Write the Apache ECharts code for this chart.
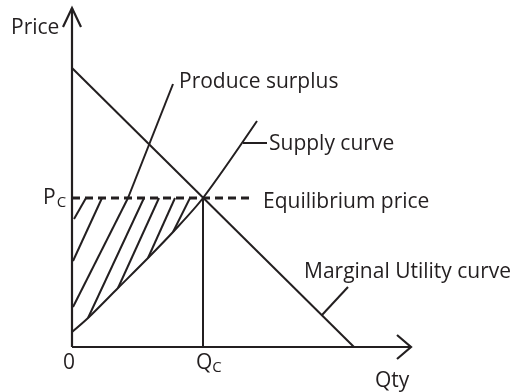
<!DOCTYPE html>
<html>
<head>
<meta charset="utf-8">
<script src="https://cdn.jsdelivr.net/npm/echarts@6/dist/echarts.min.js"></script>
<style>
  html, body { margin: 0; padding: 0; background: #fff; }
  #chart { width: 516px; height: 392px; }
</style>
</head>
<body>
<div id="chart"></div>
<script>
// chart units: quantity on x, price on y, origin at 0
var demandLine = [[0, 279], [282, 0]];
var supplyCurve = [[0, 15], [16, 29], [46, 59], [76, 89], [101, 115], [131, 149], [185, 226]];
var pcValue = 149;
var qcValue = 131;
var pcLine = [[0, 149], [181, 149]];
var qcLine = [[131, 0], [131, 149]];
// shaded producer surplus, one segment per hatch stroke
var hatchLines = [
  [[2, 128], [14, 149]],
  [[1, 86], [30, 149]],
  [[1, 40], [56, 149]],
  [[16, 29], [72, 149]],
  [[46, 59], [87, 149]],
  [[76, 89], [103, 149]],
  [[101, 115], [118, 149]]
];
// leader lines from labels to curves
var surplusPointer = [[56, 149], [101, 263]];
var supplyPointer = [[171, 204], [195, 204]];
var muPointer = [[250, 32], [276, 60]];
// axes with open arrow heads
var yAxisLine = [[0, 0], [0, 339]];
var yArrow = [[-9, 320], [0, 339], [9, 320]];
var xAxisLine = [[0, 0], [339, 0]];
var xArrow = [[325, 12], [339, 0], [325, -12]];

var ink = "#231f20";
var chart = echarts.init(document.getElementById("chart"));

function seg(list) {
  return list.map(function (c) { return { coords: c }; });
}

chart.setOption({
  animation: false,
  grid: { left: 0, right: 0, top: 0, bottom: 0 },
  xAxis: { type: "value", min: -72, max: 444, show: false },
  yAxis: { type: "value", min: -45, max: 347, show: false },
  series: [
    {
      name: "axes",
      type: "lines",
      coordinateSystem: "cartesian2d",
      polyline: true,
      lineStyle: { color: ink, width: 2.2, opacity: 1 },
      data: seg([yAxisLine, yArrow, xAxisLine, xArrow])
    },
    {
      name: "Marginal Utility curve",
      type: "line",
      data: demandLine,
      symbol: "none",
      clip: false,
      lineStyle: { color: ink, width: 2 }
    },
    {
      name: "Supply curve",
      type: "line",
      data: supplyCurve,
      smooth: 0.3,
      symbol: "none",
      clip: false,
      lineStyle: { color: ink, width: 2 }
    },
    {
      name: "Equilibrium price",
      type: "line",
      data: pcLine,
      symbol: "none",
      clip: false,
      lineStyle: { color: ink, width: 3, type: [8, 5] }
    },
    {
      name: "Qc",
      type: "line",
      data: qcLine,
      symbol: "none",
      clip: false,
      lineStyle: { color: ink, width: 2 }
    },
    {
      name: "hatch",
      type: "lines",
      coordinateSystem: "cartesian2d",
      lineStyle: { color: ink, width: 2, opacity: 1 },
      data: seg(hatchLines.concat([surplusPointer, supplyPointer, muPointer]))
    }
  ],
  graphic: [
    { type: "text", left: 11, top: 18, style: { text: "Price", font: "21px 'Open Sans'", fill: ink } },
    { type: "text", left: 179, top: 72, style: { text: "Produce surplus", font: "21px 'Open Sans'", fill: ink } },
    { type: "text", left: 269, top: 134, style: { text: "Supply curve", font: "21px 'Open Sans'", fill: ink } },
    { type: "text", left: 263, top: 192, style: { text: "Equilibrium price", font: "21px 'Open Sans'", fill: ink } },
    { type: "text", left: 304, top: 262, style: { text: "Marginal Utility curve", font: "21px 'Open Sans'", fill: ink } },
    { type: "text", left: 63, top: 353, style: { text: "0", font: "21px 'Open Sans'", fill: ink } },
    { type: "text", left: 375, top: 371, style: { text: "Qty", font: "21px 'Open Sans'", fill: ink } },
    {
      type: "text", left: 43, top: 188,
      style: {
        text: "{p|P}{c|C}", fill: ink,
        rich: {
          p: { font: "21px 'Open Sans'", fill: ink },
          c: { font: "15px 'Open Sans'", fill: ink, padding: [8, 0, 0, 1] }
        }
      }
    },
    {
      type: "text", left: 196, top: 353,
      style: {
        text: "{q|Q}{c|C}", fill: ink,
        rich: {
          q: { font: "21px 'Open Sans'", fill: ink },
          c: { font: "15px 'Open Sans'", fill: ink, padding: [8, 0, 0, 0] }
        }
      }
    }
  ]
});
</script>
</body>
</html>
